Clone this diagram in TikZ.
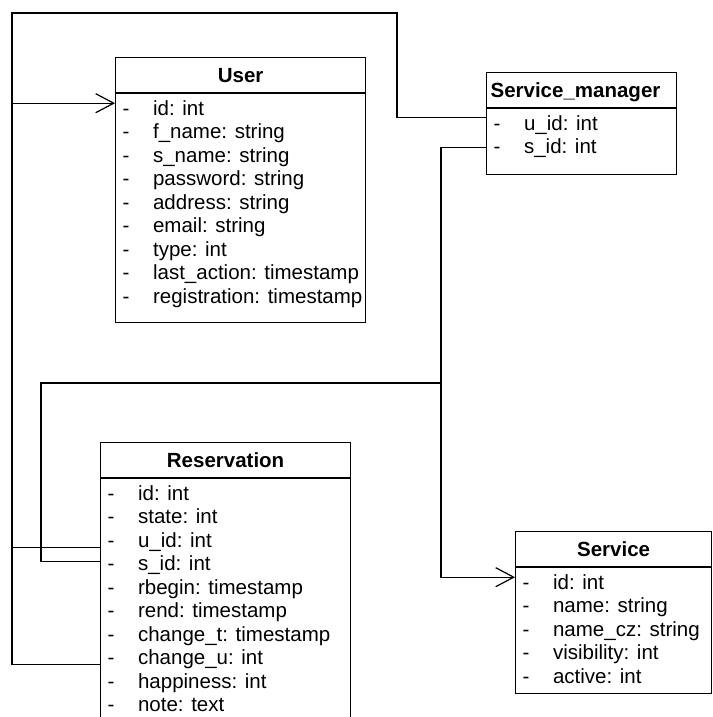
\documentclass[tikz,border=0pt]{standalone}
\usepackage{fontspec}
\setmainfont{Liberation Sans}
\usetikzlibrary{arrows.meta, positioning, calc}

\begin{document}
\begin{tikzpicture}[x=1pt, y=-1pt, line width=1.2pt,
  head/.style={draw, anchor=north west, minimum height=35pt, inner xsep=4pt,
    text height=15pt, text depth=0pt, font=\fontsize{20.5}{23.5}\selectfont\bfseries},
  body/.style={draw, anchor=north west},
  attr/.style={anchor=base west, inner xsep=7pt, inner ysep=0pt, text height=15pt,
    text depth=5pt, font=\fontsize{20.5}{23.5}\selectfont,
    execute at begin node={\makebox[30.5pt][l]{-}}},
  open/.style={-{Straight Barb[length=18pt, width=19pt]}}]
\useasboundingbox (0,0) rectangle (712,717);
\clip (0,0) rectangle (712,717);

% User
\node[head, minimum width=250pt] (user) at (115,57) {User};
\node[body, minimum width=250pt, minimum height=229pt] (userbox) at (user.south west) {};
\foreach \t [count=\i] in {id: int, f\_name: string, s\_name: string, password: string,
    address: string, email: string, type: int, last\_action: timestamp, registration: timestamp}
  \node[attr] (user-\i) at ($(user.south west)+(0,{22+23.5*(\i-1)})$) {\t};

% Service_manager
\node[head, text width=182pt, align=left] (sm) at (486,72) {Service\_manager};
\node[body, minimum width=190pt, minimum height=66pt] (smbox) at (sm.south west) {};
\foreach \t [count=\i] in {u\_id: int, s\_id: int}
  \node[attr] (sm-\i) at ($(sm.south west)+(0,{22+23.5*(\i-1)})$) {\t};

% Reservation
\node[head, minimum width=250pt] (res) at (100,442) {Reservation};
\node[body, minimum width=250pt, minimum height=320pt] (resbox) at (res.south west) {};
\foreach \t [count=\i] in {id: int, state: int, u\_id: int, s\_id: int, rbegin: timestamp,
    rend: timestamp, change\_t: timestamp, change\_u: int, happiness: int, note: text}
  \node[attr] (res-\i) at ($(res.south west)+(0,{22+23.5*(\i-1)})$) {\t};

% Service
\node[head, minimum width=196pt] (srv) at (515,531) {Service};
\node[body, minimum width=196pt, minimum height=126pt] (srvbox) at (srv.south west) {};
\foreach \t [count=\i] in {id: int, name: string, name\_cz: string, visibility: int, active: int}
  \node[attr] (srv-\i) at ($(srv.south west)+(0,{22+23.5*(\i-1)})$) {\t};

% links to User
\coordinate (uin) at ([yshift=7pt]user-1.west);
\coordinate (ubus) at (12,13);
\coordinate (utop) at (397,13);
\draw[open] ([yshift=8pt]sm-1.west) -| (utop) -- (ubus) |- (uin);
\draw ([yshift=-5.5pt]res-3.west) -| (ubus |- uin);
\draw ([yshift=-5pt]res-8.west) -| (ubus |- uin);

% links to Service
\coordinate (sbus) at (441,383);
\draw[open] ([yshift=1pt]sm-2.west) -| (sbus) |- ([yshift=7pt]srv-1.west);
\draw ([yshift=4pt]res-4.west) -- ++(-59,0) |- (sbus);
\end{tikzpicture}
\end{document}
